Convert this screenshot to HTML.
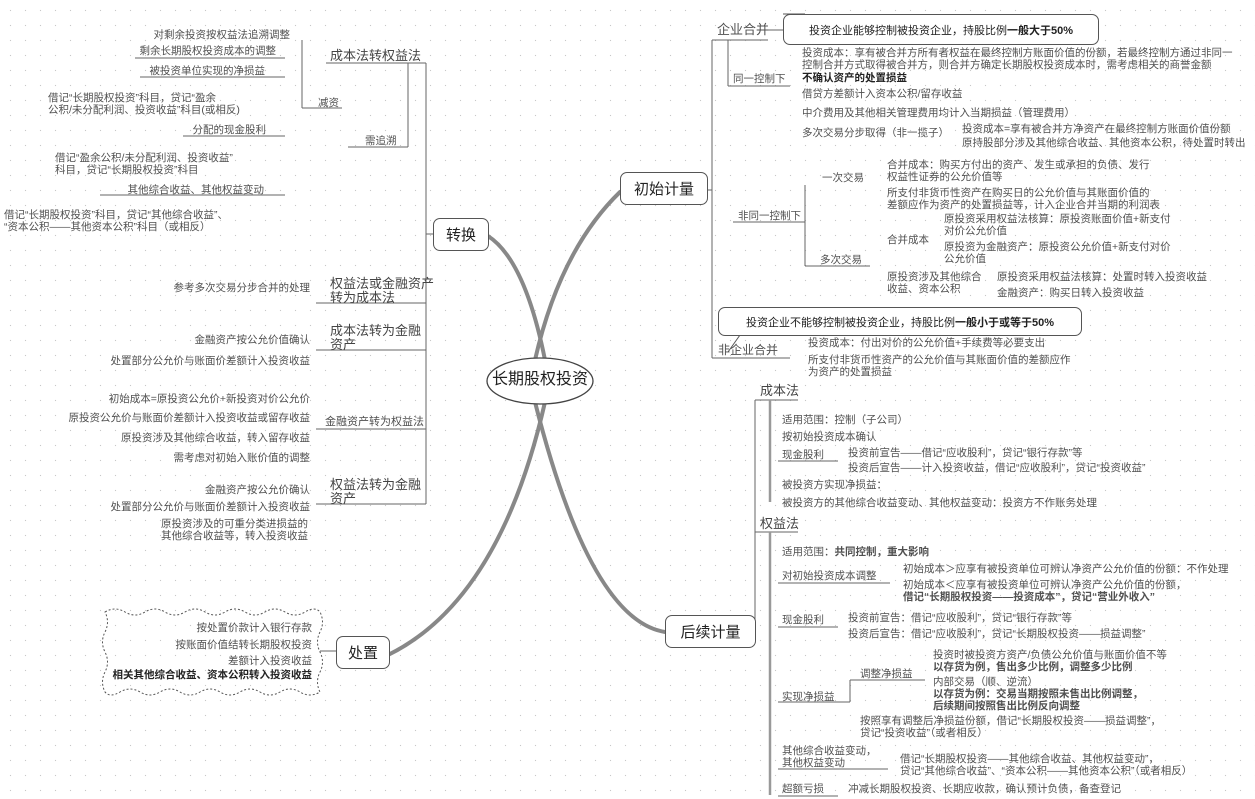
<!DOCTYPE html>
<html><head><meta charset="utf-8"><style>
body{margin:0;width:1255px;height:799px;overflow:hidden;background:#fff;
background-image:radial-gradient(circle,#c8c8c8 0.7px,transparent 0.8px);background-size:15px 15px;background-position:3px 3px;
font-family:"Liberation Sans","Noto Sans CJK SC",sans-serif;color:#505050;position:relative}
.t{position:absolute;font-size:10.5px;line-height:12px;white-space:nowrap}
.r{text-align:right}
.h{position:absolute;font-size:13px;line-height:14px;white-space:nowrap;color:#444}
.b{font-weight:bold;color:#222}
.box{position:absolute;border:1.3px solid #555;border-radius:7px;background:#fff;font-size:15px;display:flex;align-items:center;justify-content:center;color:#222}
svg{position:absolute;left:0;top:0}
</style></head><body>
<svg width="1255" height="799" fill="none">
<g stroke="#888" stroke-linecap="round">
<path d="M545 360 Q525 260 488 236" stroke-width="4"/>
<path d="M535 360 Q560 250 620 192" stroke-width="4"/>
<path d="M545 402 Q500 600 388 655" stroke-width="4"/>
<path d="M535 402 Q590 620 665 632" stroke-width="4"/>
</g>
<g stroke="#666" stroke-width="1">
<line x1="433" y1="234" x2="426" y2="234"/>
<line x1="426" y1="63" x2="426" y2="504"/>
<line x1="326" y1="63" x2="426" y2="63"/>
<line x1="316" y1="303" x2="426" y2="303"/>
<line x1="316" y1="350" x2="426" y2="350"/>
<line x1="316" y1="429" x2="426" y2="429"/>
<line x1="316" y1="504" x2="426" y2="504"/>
<line x1="408" y1="63" x2="408" y2="147"/>
<line x1="348" y1="147" x2="408" y2="147"/>
<line x1="302" y1="40" x2="302" y2="108"/><line x1="302" y1="108" x2="342" y2="108"/>
<line x1="135" y1="58" x2="285" y2="58"/>
<line x1="140" y1="77" x2="285" y2="77"/>
<line x1="183" y1="136" x2="285" y2="136"/>
<line x1="100" y1="195" x2="285" y2="195"/>
<line x1="706" y1="190" x2="712" y2="190"/>
<line x1="712" y1="40" x2="712" y2="358"/>
<line x1="712" y1="40" x2="768" y2="40"/>
<line x1="768" y1="30" x2="783" y2="30"/>
<line x1="728" y1="40" x2="728" y2="86"/><line x1="728" y1="86" x2="790" y2="86"/>
<line x1="733" y1="222" x2="805" y2="222"/>
<line x1="805" y1="185" x2="805" y2="266"/>
<line x1="712" y1="358" x2="790" y2="358"/>
<line x1="805" y1="266" x2="870" y2="266"/>
<line x1="755" y1="400" x2="755" y2="630"/>
<line x1="755" y1="400" x2="798" y2="400"/>
<line x1="755" y1="532" x2="798" y2="532"/>
<line x1="778" y1="461" x2="838" y2="461"/>
<line x1="778" y1="583" x2="890" y2="583"/>
<line x1="778" y1="627" x2="838" y2="627"/>
<line x1="778" y1="702" x2="850" y2="702"/>
<line x1="850" y1="680" x2="850" y2="702"/>
<line x1="850" y1="680" x2="925" y2="680"/>
<line x1="778" y1="769" x2="888" y2="769"/>
<line x1="778" y1="796" x2="838" y2="796"/>
</g>
<g stroke="#999" stroke-width="2.5"><line x1="770" y1="400" x2="770" y2="502"/><line x1="770" y1="532" x2="770" y2="795"/></g>
<ellipse cx="540" cy="381" rx="53" ry="23" fill="#fff" stroke="#444" stroke-width="1.3"/>
<path d="M105 612 q10 -6 20 0 t20 0 t20 0 t20 0 t20 0 t20 0 t20 0 t20 0 t20 0 t20 0 t15 0 q5 10 0 20 t0 20 t0 20 t0 20 q-10 6 -20 0 t-20 0 t-20 0 t-20 0 t-20 0 t-20 0 t-20 0 t-20 0 t-20 0 t-20 0 t-15 0 q-5 -10 0 -20 t0 -20 t0 -20 t0 -20z" stroke="#555" stroke-dasharray="2 2" stroke-width="1"/>
<line x1="320" y1="651" x2="336" y2="651" stroke="#666"/>
<path d="M805 14 L783 14 M740 335 L728 352" stroke="#555"/>
</svg>
<div class="t" style="left:717px;top:23px;font-size:13px;line-height:14px">企业合并</div>
<div class="box" style="left:783px;top:14px;width:314px;height:29px;font-size:11px">投资企业能够控制被投资企业，持股比例<b>一般大于50%</b></div>
<div class="t" style="left:733px;top:73px">同一控制下</div>
<div class="t" style="left:802px;top:47px">投资成本：享有被合并方所有者权益在最终控制方账面价值的份额，若最终控制方通过非同一<br>控制合并方式取得被合并方，则合并方确定长期股权投资成本时，需考虑相关的商誉金额</div>
<div class="t b" style="left:802px;top:72px">不确认资产的处置损益</div>
<div class="t" style="left:802px;top:88px">借贷方差额计入资本公积/留存收益</div>
<div class="t" style="left:802px;top:107px">中介费用及其他相关管理费用均计入当期损益（管理费用）</div>
<div class="t" style="left:802px;top:127px">多次交易分步取得（非一揽子）</div>
<div class="t" style="left:962px;top:123px">投资成本=享有被合并方净资产在最终控制方账面价值份额</div>
<div class="t" style="left:962px;top:137px">原持股部分涉及其他综合收益、其他资本公积，待处置时转出</div>
<div class="t" style="left:738px;top:210px">非同一控制下</div>
<div class="t" style="left:822px;top:172px">一次交易</div>
<div class="t" style="left:887px;top:159px">合并成本：购买方付出的资产、发生或承担的负债、发行<br>权益性证券的公允价值等</div>
<div class="t" style="left:887px;top:187px">所支付非货币性资产在购买日的公允价值与其账面价值的<br>差额应作为资产的处置损益等，计入企业合并当期的利润表</div>
<div class="t" style="left:820px;top:254px">多次交易</div>
<div class="t" style="left:887px;top:234px">合并成本</div>
<div class="t" style="left:944px;top:213px">原投资采用权益法核算：原投资账面价值+新支付<br>对价公允价值</div>
<div class="t" style="left:944px;top:241px">原投资为金融资产：原投资公允价值+新支付对价<br>公允价值</div>
<div class="t" style="left:887px;top:271px">原投资涉及其他综合<br>收益、资本公积</div>
<div class="t" style="left:997px;top:271px">原投资采用权益法核算：处置时转入投资收益</div>
<div class="t" style="left:997px;top:287px">金融资产：购买日转入投资收益</div>
<div class="box" style="left:718px;top:307px;width:362px;height:27px;font-size:11px">投资企业不能够控制被投资企业，持股比例<b>一般小于或等于50%</b></div>
<div class="t" style="left:718px;top:344px;font-size:12px">非企业合并</div>
<div class="t" style="left:808px;top:337px">投资成本：付出对价的公允价值+手续费等必要支出</div>
<div class="t" style="left:808px;top:354px">所支付非货币性资产的公允价值与其账面价值的差额应作<br>为资产的处置损益</div>
<div class="h" style="left:760px;top:384px">成本法</div>
<div class="t" style="left:782px;top:414px">适用范围：控制（子公司）</div>
<div class="t" style="left:782px;top:431px">按初始投资成本确认</div>
<div class="t" style="left:782px;top:449px">现金股利</div>
<div class="t" style="left:848px;top:447px">投资前宣告——借记“应收股利”，贷记“银行存款”等</div>
<div class="t" style="left:848px;top:462px">投资后宣告——计入投资收益，借记“应收股利”，贷记“投资收益”</div>
<div class="t" style="left:782px;top:479px">被投资方实现净损益：</div>
<div class="t" style="left:782px;top:497px">被投资方的其他综合收益变动、其他权益变动：投资方不作账务处理</div>
<div class="h" style="left:760px;top:517px">权益法</div>
<div class="t" style="left:782px;top:546px">适用范围：<b>共同控制，重大影响</b></div>
<div class="t" style="left:782px;top:570px">对初始投资成本调整</div>
<div class="t" style="left:903px;top:563px">初始成本＞应享有被投资单位可辨认净资产公允价值的份额：不作处理</div>
<div class="t" style="left:903px;top:579px">初始成本＜应享有被投资单位可辨认净资产公允价值的份额，<br><b>借记“长期股权投资——投资成本”，贷记“营业外收入”</b></div>
<div class="t" style="left:782px;top:614px">现金股利</div>
<div class="t" style="left:848px;top:612px">投资前宣告：借记“应收股利”，贷记“银行存款”等</div>
<div class="t" style="left:848px;top:628px">投资后宣告：借记“应收股利”，贷记“长期股权投资——损益调整”</div>
<div class="t" style="left:860px;top:668px">调整净损益</div>
<div class="t" style="left:933px;top:649px">投资时被投资方资产/负债公允价值与账面价值不等<br><b>以存货为例，售出多少比例，调整多少比例</b></div>
<div class="t" style="left:933px;top:676px">内部交易（顺、逆流）<br><b>以存货为例：交易当期按照未售出比例调整，<br>后续期间按照售出比例反向调整</b></div>
<div class="t" style="left:782px;top:691px">实现净损益</div>
<div class="t" style="left:860px;top:715px">按照享有调整后净损益份额，借记“长期股权投资——损益调整”，<br>贷记“投资收益”（或者相反）</div>
<div class="t" style="left:782px;top:745px">其他综合收益变动，<br>其他权益变动</div>
<div class="t" style="left:900px;top:753px">借记“长期股权投资——其他综合收益、其他权益变动”，<br>贷记“其他综合收益”、“资本公积——其他资本公积”（或者相反）</div>
<div class="t" style="left:782px;top:783px">超额亏损</div>
<div class="t" style="left:848px;top:783px">冲减长期股权投资、长期应收款，确认预计负债，备查登记</div>
<div class="h" style="left:330px;top:49px">成本法转权益法</div>
<div class="t" style="left:318px;top:97px">减资</div>
<div class="t" style="left:365px;top:135px">需追溯</div>
<div class="t r" style="left:0;width:290px;top:29px">对剩余投资按权益法追溯调整</div>
<div class="t r" style="left:0;width:276px;top:45px">剩余长期股权投资成本的调整</div>
<div class="t r" style="left:0;width:265px;top:65px">被投资单位实现的净损益</div>
<div class="t" style="left:48px;top:92px">借记“长期股权投资”科目，贷记“盈余<br>公积/未分配利润、投资收益”科目(或相反)</div>
<div class="t r" style="left:0;width:266px;top:124px">分配的现金股利</div>
<div class="t" style="left:55px;top:152px">借记“盈余公积/未分配利润、投资收益”<br>科目，贷记“长期股权投资”科目</div>
<div class="t r" style="left:0;width:264px;top:184px">其他综合收益、其他权益变动</div>
<div class="t" style="left:4px;top:209px">借记“长期股权投资”科目，贷记“其他综合收益”、<br>“资本公积——其他资本公积”科目（或相反）</div>
<div class="box" style="left:433px;top:218px;width:54px;height:31px">转换</div>
<div class="h" style="left:330px;top:277px">权益法或金融资产<br>转为成本法</div>
<div class="t r" style="left:0;width:310px;top:282px">参考多次交易分步合并的处理</div>
<div class="h" style="left:330px;top:324px">成本法转为金融<br>资产</div>
<div class="t r" style="left:0;width:310px;top:334px">金融资产按公允价值确认</div>
<div class="t r" style="left:0;width:310px;top:355px">处置部分公允价与账面价差额计入投资收益</div>
<div class="t" style="left:325px;top:416px;font-size:11px">金融资产转为权益法</div>
<div class="t r" style="left:0;width:310px;top:393px">初始成本=原投资公允价+新投资对价公允价</div>
<div class="t r" style="left:0;width:310px;top:412px">原投资公允价与账面价差额计入投资收益或留存收益</div>
<div class="t r" style="left:0;width:310px;top:432px">原投资涉及其他综合收益，转入留存收益</div>
<div class="t r" style="left:0;width:310px;top:452px">需考虑对初始入账价值的调整</div>
<div class="h" style="left:330px;top:478px">权益法转为金融<br>资产</div>
<div class="t r" style="left:0;width:310px;top:484px">金融资产按公允价确认</div>
<div class="t r" style="left:0;width:310px;top:501px">处置部分公允价与账面价差额计入投资收益</div>
<div class="t r" style="left:0;width:308px;top:518px">原投资涉及的可重分类进损益的<br>其他综合收益等，转入投资收益</div>
<div class="t r" style="left:0;width:312px;top:622px">按处置价款计入银行存款</div>
<div class="t r" style="left:0;width:312px;top:639px">按账面价值结转长期股权投资</div>
<div class="t r" style="left:0;width:312px;top:655px">差额计入投资收益</div>
<div class="t r b" style="left:0;width:312px;top:669px">相关其他综合收益、资本公积转入投资收益</div>
<div class="box" style="left:336px;top:636px;width:52px;height:31px">处置</div>
<div class="box" style="left:620px;top:172px;width:86px;height:31px">初始计量</div>
<div class="box" style="left:665px;top:615px;width:89px;height:31px">后续计量</div>
<div class="t" style="left:487px;top:370px;width:106px;text-align:center;font-size:16px;line-height:20px;color:#222">长期股权投资</div>
</body></html>
